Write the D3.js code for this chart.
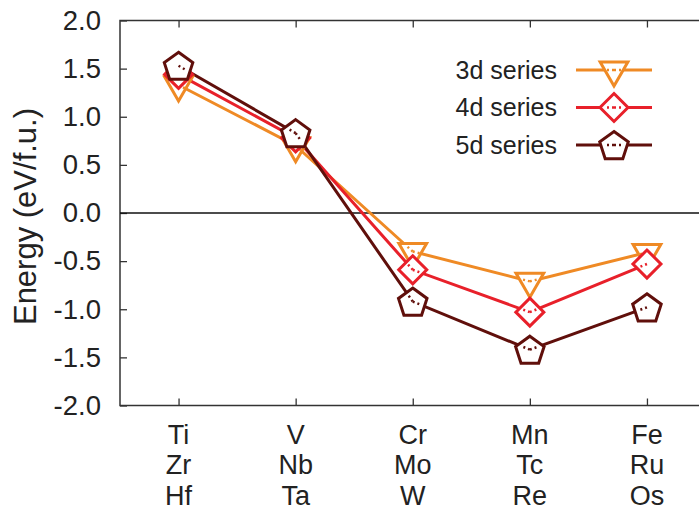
<!DOCTYPE html>
<html><head><meta charset="utf-8">
<script src="https://cdn.jsdelivr.net/npm/d3@7"></script>
<style>body{margin:0;background:#fff}svg{display:block}text{font-family:"Liberation Sans",Arial,sans-serif;fill:#222}</style>
</head><body>
<svg id="c" width="699" height="510"></svg>
<script>
const rows3d = ["Ti","V","Cr","Mn","Fe"];
const rows4d = ["Zr","Nb","Mo","Tc","Ru"];
const rows5d = ["Hf","Ta","W","Re","Os"];
const values3d = [1.33, 0.70, -0.40, -0.71, -0.41];
const values4d = [1.44, 0.78, -0.59, -1.03, -0.53];
const values5d = [1.53, 0.83, -0.92, -1.42, -0.98];
const yTicks = [-2.0, -1.5, -1.0, -0.5, 0.0, 0.5, 1.0, 1.5, 2.0];
const seriesNames = ["3d series", "4d series", "5d series"];

const series = [
  {name: seriesNames[0], values: values3d, color: "#ef8a25", shape: "tri"},
  {name: seriesNames[1], values: values4d, color: "#e8202a", shape: "dia"},
  {name: seriesNames[2], values: values5d, color: "#600f0b", shape: "pent"}
];

const svg = d3.select("#c");
const L = 120, R = 705.5, T = 20.5, B = 405.5;
const x = d3.scaleLinear().domain([-0.5, 4.5]).range([L, R]);
const y = d3.scaleLinear().domain([-2, 2]).range([B, T]);
const FS_TICK = 27.5, FS_X = 27, FS_LEG = 25, FS_YL = 31;

const tickLen = 7;
const fmt = d => d3.format(".1f")(d).replace("\u2212", "-");
const yAxisL = d3.axisLeft(y).tickValues(yTicks).tickSize(-tickLen).tickFormat(fmt).tickPadding(19);
const gy = svg.append("g").attr("transform", `translate(${L},0)`).call(yAxisL);
gy.selectAll("text").style("font-size", FS_TICK + "px").attr("fill", "#222");
const xIdx = d3.range(5);
const gxb = svg.append("g").attr("transform", `translate(0,${B})`).call(d3.axisBottom(x).tickValues(xIdx).tickSize(-tickLen).tickFormat(""));
const gxt = svg.append("g").attr("transform", `translate(0,${T})`).call(d3.axisTop(x).tickValues(xIdx).tickSize(-tickLen).tickFormat(""));
[gy, gxb, gxt].forEach(g => {
  g.select(".domain").remove();
  g.selectAll("line").attr("stroke", "#333").attr("stroke-width", 1.3);
});
svg.append("rect").attr("x", L).attr("y", T).attr("width", R - L).attr("height", B - T)
  .attr("fill", "none").attr("stroke", "#333").attr("stroke-width", 1.5);
svg.append("line").attr("x1", L).attr("x2", R).attr("y1", y(0)).attr("y2", y(0))
  .attr("stroke", "#111").attr("stroke-width", 1.6);

[rows3d, rows4d, rows5d].forEach((row, ri) => {
  svg.append("g").selectAll("text").data(row).join("text")
    .attr("x", (d, i) => x(i)).attr("y", 443.5 + ri * 30.5)
    .attr("text-anchor", "middle").style("font-size", FS_X + "px").text(d => d);
});

svg.append("text").attr("transform", `translate(35.5,216.5) rotate(-90)`)
  .attr("text-anchor", "middle").style("font-size", FS_YL + "px").text("Energy (eV/f.u.)");

function shapePath(shape) {
  if (shape === "tri") {
    const r = 16;
    const pts = [[-r * Math.sqrt(3) / 2, -r / 2], [r * Math.sqrt(3) / 2, -r / 2], [0, r]];
    return "M" + pts.map(p => p.join(",")).join("L") + "Z";
  }
  if (shape === "dia") {
    const r = 14;
    return `M0,${-r}L${r},0L0,${r}L${-r},0Z`;
  }
  const r = 15;
  const pts = d3.range(5).map(k => {
    const a = -Math.PI / 2 + k * 2 * Math.PI / 5;
    return [r * Math.cos(a), r * Math.sin(a) + 1.5];
  });
  return "M" + pts.map(p => p.join(",")).join("L") + "Z";
}

function drawMarker(g, cx, cy, s, dirs) {
  g.append("path").attr("d", shapePath(s.shape)).attr("transform", `translate(${cx},${cy})`)
    .attr("fill", "#fff").attr("stroke", s.color).attr("stroke-width", 3);
  dirs.forEach(([dx, dy]) => {
    const len = Math.hypot(dx, dy);
    g.append("line").attr("x1", cx).attr("y1", cy)
      .attr("x2", cx + dx / len * 10).attr("y2", cy + dy / len * 10)
      .attr("stroke", s.color).attr("stroke-width", 2.5).attr("stroke-dasharray", "2,3");
  });
}

const line = d3.line().x((d, i) => x(i)).y(d => y(d));
series.forEach(s => {
  svg.append("path").datum(s.values).attr("d", line).attr("fill", "none")
    .attr("stroke", s.color).attr("stroke-width", 3);
});
series.forEach(s => {
  const g = svg.append("g");
  s.values.forEach((v, i) => {
    const dirs = [];
    if (i > 0) dirs.push([x(i - 1) - x(i), y(s.values[i - 1]) - y(v)]);
    if (i < s.values.length - 1) dirs.push([x(i + 1) - x(i), y(s.values[i + 1]) - y(v)]);
    drawMarker(g, x(i), y(v), s, dirs);
  });
});

series.forEach((s, k) => {
  const ly = 70 + k * 37.5;
  svg.append("text").attr("x", 557).attr("y", ly).attr("dy", "0.35em")
    .attr("text-anchor", "end").style("font-size", FS_LEG + "px").text(s.name);
  svg.append("line").attr("x1", 576).attr("x2", 652).attr("y1", ly).attr("y2", ly)
    .attr("stroke", s.color).attr("stroke-width", 3);
  const g = svg.append("g");
  drawMarker(g, 614, ly, s, [[-1, 0], [1, 0]]);
});
</script>
</body></html>
